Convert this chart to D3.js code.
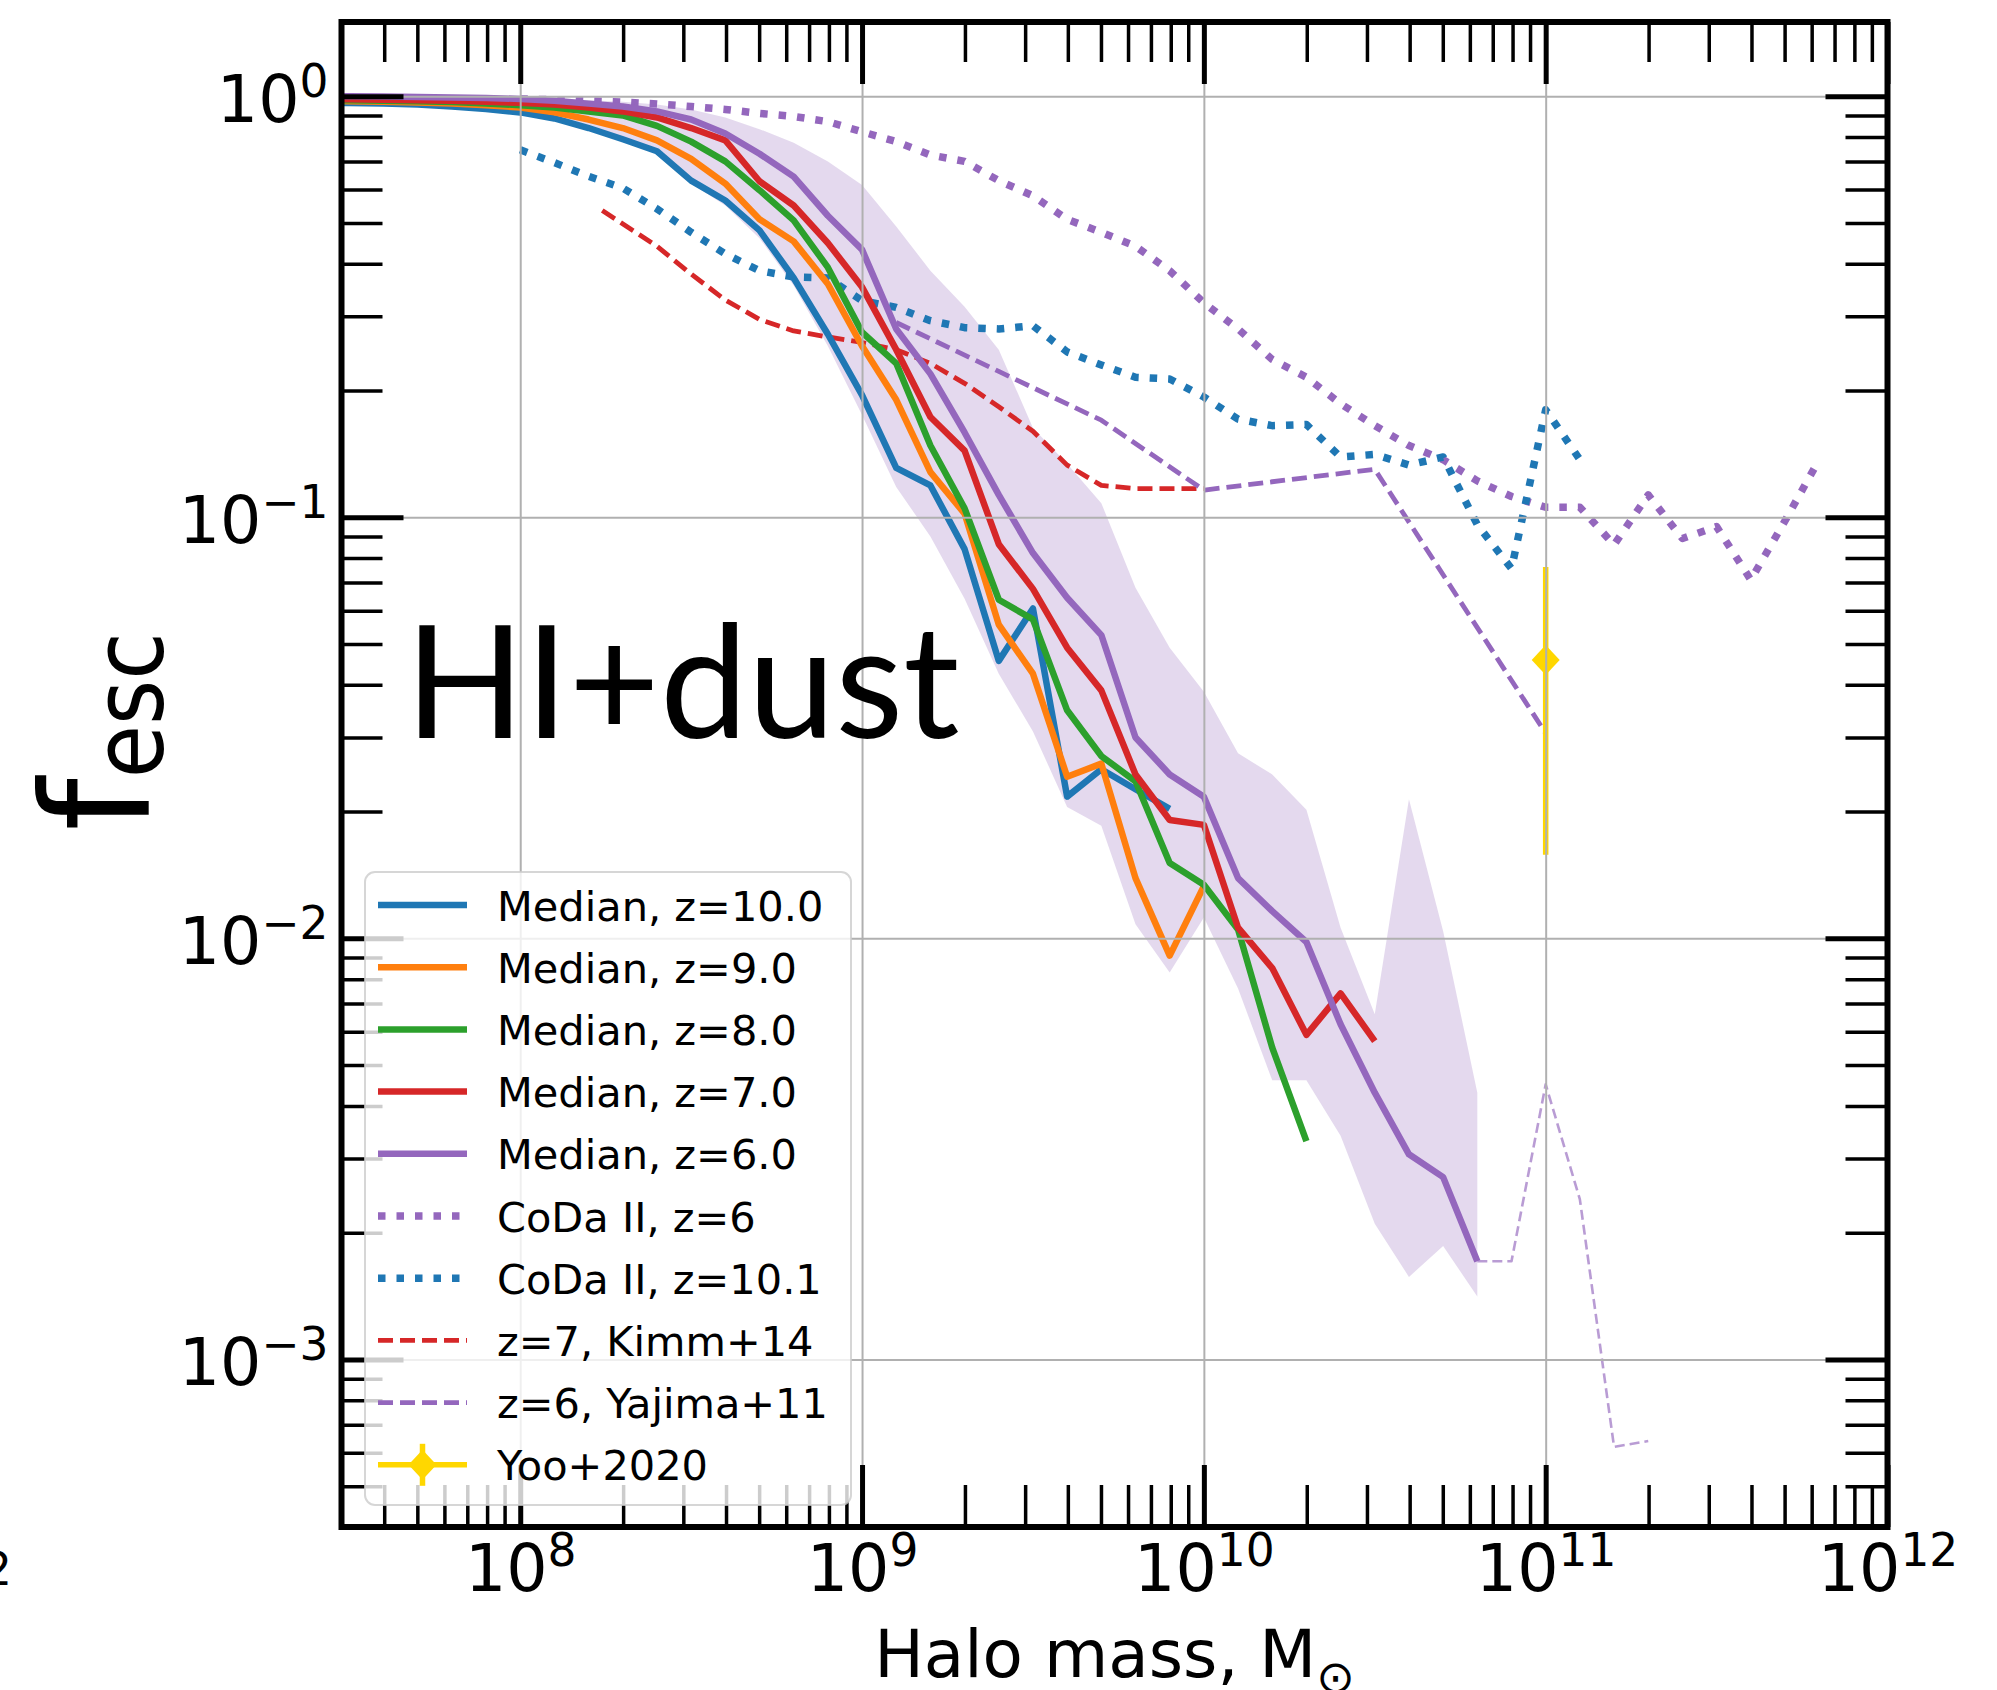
<!DOCTYPE html>
<html>
<head>
<meta charset="utf-8">
<script src="https://cdn.jsdelivr.net/npm/d3@7/dist/d3.min.js"></script>
<style>
html,body{margin:0;padding:0;background:#fff;}
svg{display:block;}
</style>
</head>
<body>
<svg id="chart" width="1997" height="1690" xmlns="http://www.w3.org/2000/svg"></svg>
<script>
// ================= DATA (x = log10 halo mass [Msun], y = f_esc) =================
const medianZ10 = [[7.4,0.965],[7.5,0.963],[7.6,0.96],[7.7,0.955],[7.8,0.945],[7.9,0.932],[8.0,0.915],[8.1,0.885],[8.2,0.84],[8.3,0.79],[8.4,0.74],[8.5,0.63],[8.6,0.565],[8.7,0.48],[8.8,0.37],[8.9,0.272],[9.0,0.195],[9.1,0.131],[9.2,0.119],[9.3,0.084],[9.4,0.0456],[9.5,0.0607],[9.6,0.0217],[9.7,0.0252],[9.8,0.0226],[9.9,0.0203]];
const medianZ9 = [[7.4,0.975],[7.5,0.973],[7.6,0.97],[7.7,0.966],[7.8,0.96],[7.9,0.952],[8.0,0.94],[8.1,0.915],[8.2,0.88],[8.3,0.84],[8.4,0.785],[8.5,0.71],[8.6,0.62],[8.7,0.51],[8.8,0.452],[8.9,0.358],[9.0,0.255],[9.1,0.19],[9.2,0.128],[9.3,0.102],[9.4,0.0556],[9.5,0.0425],[9.6,0.0242],[9.7,0.026],[9.8,0.0139],[9.9,0.0091],[10.0,0.0133]];
const medianZ8 = [[7.4,0.98],[7.5,0.978],[7.6,0.975],[7.7,0.972],[7.8,0.968],[7.9,0.96],[8.0,0.952],[8.1,0.94],[8.2,0.92],[8.3,0.9],[8.4,0.85],[8.5,0.78],[8.6,0.70],[8.7,0.598],[8.8,0.507],[8.9,0.392],[9.0,0.275],[9.1,0.232],[9.2,0.148],[9.3,0.105],[9.4,0.0637],[9.5,0.0572],[9.6,0.0348],[9.7,0.0271],[9.8,0.0236],[9.9,0.0151],[10.0,0.0134],[10.1,0.0105],[10.2,0.0055],[10.3,0.0033]];
const medianZ7 = [[7.4,0.985],[7.5,0.983],[7.6,0.98],[7.7,0.978],[7.8,0.975],[7.9,0.97],[8.0,0.964],[8.1,0.955],[8.2,0.94],[8.3,0.92],[8.4,0.89],[8.5,0.84],[8.6,0.785],[8.7,0.628],[8.8,0.55],[8.9,0.448],[9.0,0.352],[9.1,0.25],[9.2,0.173],[9.3,0.144],[9.4,0.0863],[9.5,0.0676],[9.6,0.049],[9.7,0.0388],[9.8,0.0245],[9.9,0.0191],[10.0,0.0186],[10.1,0.0106],[10.2,0.0085],[10.3,0.0059],[10.4,0.0074],[10.5,0.0057]];
const medianZ6 = [[7.4,1.0],[7.5,1.0],[7.6,0.998],[7.7,0.995],[7.8,0.992],[7.9,0.99],[8.0,0.985],[8.1,0.975],[8.2,0.96],[8.3,0.945],[8.4,0.92],[8.5,0.88],[8.6,0.815],[8.7,0.73],[8.8,0.644],[8.9,0.52],[9.0,0.432],[9.1,0.28],[9.2,0.219],[9.3,0.159],[9.4,0.113],[9.5,0.0822],[9.6,0.0644],[9.7,0.0525],[9.8,0.030],[9.9,0.0245],[10.0,0.0217],[10.1,0.0139],[10.2,0.0116],[10.3,0.0098],[10.4,0.00625],[10.5,0.0043],[10.6,0.00307],[10.7,0.00271],[10.8,0.00171]];
// z=6 scatter band: [log10 M, lower, upper]
const bandZ6 = [[7.4,0.96,1.0],[7.5,0.958,1.0],[7.6,0.955,1.0],[7.7,0.95,1.0],[7.8,0.94,0.998],[7.9,0.925,0.995],[8.0,0.905,0.99],[8.1,0.875,0.985],[8.2,0.835,0.978],[8.3,0.785,0.97],[8.4,0.73,0.955],[8.5,0.62,0.93],[8.6,0.55,0.89],[8.7,0.46,0.835],[8.8,0.355,0.775],[8.9,0.255,0.70],[9.0,0.175,0.615],[9.1,0.118,0.49],[9.2,0.09,0.385],[9.3,0.064,0.316],[9.4,0.0425,0.25],[9.5,0.031,0.163],[9.6,0.0205,0.134],[9.7,0.0185,0.108],[9.8,0.0108,0.068],[9.9,0.0083,0.049],[10.0,0.0112,0.0385],[10.1,0.0076,0.0275],[10.2,0.0046,0.0245],[10.3,0.0046,0.0202],[10.4,0.0034,0.0106],[10.5,0.0021,0.0066],[10.6,0.00157,0.0214],[10.7,0.00186,0.0104],[10.8,0.00141,0.0043]];
// sparse high-mass continuation of the z=6 median
const medianZ6Sparse = [[10.8,0.00171],[10.9,0.00171],[11.0,0.0045],[11.1,0.0024],[11.2,0.00062],[11.3,0.00064]];
const codaZ6 = [[8.0,0.985],[8.1,0.98],[8.2,0.975],[8.3,0.968],[8.4,0.958],[8.5,0.945],[8.6,0.93],[8.7,0.91],[8.8,0.895],[8.9,0.87],[9.0,0.823],[9.1,0.78],[9.2,0.725],[9.3,0.70],[9.4,0.63],[9.5,0.58],[9.6,0.51],[9.7,0.475],[9.8,0.44],[9.9,0.385],[10.0,0.323],[10.1,0.28],[10.2,0.237],[10.3,0.215],[10.4,0.186],[10.5,0.165],[10.6,0.148],[10.7,0.137],[10.8,0.122],[10.9,0.112],[11.0,0.1056],[11.1,0.1056],[11.2,0.086],[11.3,0.113],[11.4,0.089],[11.5,0.095],[11.6,0.071],[11.7,0.098],[11.8,0.137]];
const codaZ10 = [[8.0,0.746],[8.1,0.695],[8.2,0.645],[8.3,0.605],[8.4,0.54],[8.5,0.475],[8.6,0.422],[8.7,0.385],[8.8,0.372],[8.9,0.37],[9.0,0.327],[9.1,0.315],[9.2,0.293],[9.3,0.282],[9.4,0.28],[9.5,0.285],[9.6,0.247],[9.7,0.23],[9.8,0.215],[9.9,0.213],[10.0,0.193],[10.1,0.171],[10.2,0.165],[10.3,0.166],[10.4,0.139],[10.5,0.141],[10.6,0.133],[10.7,0.139],[10.8,0.096],[10.9,0.0755],[11.0,0.18],[11.1,0.137]];
const kimm14 = [[8.24,0.535],[8.4,0.44],[8.5,0.378],[8.6,0.328],[8.7,0.295],[8.8,0.277],[8.9,0.268],[9.0,0.26],[9.1,0.25],[9.2,0.232],[9.3,0.208],[9.4,0.183],[9.5,0.16],[9.6,0.133],[9.7,0.119],[9.8,0.117],[9.9,0.117],[10.0,0.117]];
const yajima11 = [[9.1,0.29],[9.4,0.222],[9.7,0.17],[10.0,0.116],[10.5,0.13],[11.0,0.0307]];
// Yoo+2020: [log10 M, value, lower, upper]
const yoo2020 = [[11.0,0.0458,0.0158,0.0762]];

const xTickExponents = [8, 9, 10, 11, 12];
const yTickExponents = [0, -1, -2, -3];
const legendLabels = ["Median, z=10.0","Median, z=9.0","Median, z=8.0","Median, z=7.0","Median, z=6.0","CoDa II, z=6","CoDa II, z=10.1","z=7, Kimm+14","z=6, Yajima+11","Yoo+2020"];

// ================= STYLE / LAYOUT =================
const C = {blue:"#1f77b4", orange:"#ff7f0e", green:"#2ca02c", red:"#d62728", purple:"#9467bd", gold:"#ffd700"};
const P = {left:341.5, right:1887.5, top:22, bottom:1527};
const FONT = "'DejaVu Sans', 'Liberation Sans', sans-serif";
const SOLID_W = 6.5, DOT_W = 7.5, DOT_DASH = "7.5,11", DASH_W = 4.8, DASH_DASH = "15,7";

const svg = d3.select("#chart");
const x = d3.scaleLog().domain([3e7, 1e12]).range([P.left, P.right]);
const y = d3.scaleLog().domain([4e-4, 1.5]).range([P.bottom, P.top]);
const px = d => x(Math.pow(10, d[0]));

svg.append("rect").attr("width",1997).attr("height",1690).attr("fill","#fff");
svg.append("defs").append("clipPath").attr("id","plotclip")
  .append("rect").attr("x",P.left).attr("y",P.top).attr("width",P.right-P.left).attr("height",P.bottom-P.top);

// band
const plotG = svg.append("g").attr("clip-path","url(#plotclip)");
plotG.append("path").datum(bandZ6)
  .attr("d", d3.area().x(px).y0(d=>y(d[1])).y1(d=>y(d[2])))
  .attr("fill", C.purple).attr("fill-opacity", 0.25);

// grid
const majorX = xTickExponents.map(e=>Math.pow(10,e));
const majorY = yTickExponents.map(e=>Math.pow(10,e));
const gridG = svg.append("g");
gridG.append("g").attr("transform",`translate(0,${P.bottom})`)
  .call(d3.axisBottom(x).tickValues(majorX).tickSize(-(P.bottom-P.top)).tickFormat(""))
  .call(g=>g.select(".domain").remove())
  .call(g=>g.selectAll("line").attr("stroke","#b0b0b0").attr("stroke-width",2));
gridG.append("g").attr("transform",`translate(${P.left},0)`)
  .call(d3.axisLeft(y).tickValues(majorY).tickSize(-(P.right-P.left)).tickFormat(""))
  .call(g=>g.select(".domain").remove())
  .call(g=>g.selectAll("line").attr("stroke","#b0b0b0").attr("stroke-width",2));

// lines
const line = d3.line().x(px).y(d=>y(d[1]));
const series = [
  {data: codaZ6, color:C.purple, w:DOT_W, dash:DOT_DASH},
  {data: codaZ10, color:C.blue, w:DOT_W, dash:DOT_DASH},
  {data: kimm14, color:C.red, w:DASH_W, dash:DASH_DASH},
  {data: yajima11, color:C.purple, w:DASH_W, dash:DASH_DASH},
  {data: medianZ6Sparse, color:C.purple, w:2.6, dash:"10,5", op:0.65},
  {data: medianZ10, color:C.blue, w:SOLID_W},
  {data: medianZ9, color:C.orange, w:SOLID_W},
  {data: medianZ8, color:C.green, w:SOLID_W},
  {data: medianZ7, color:C.red, w:SOLID_W},
  {data: medianZ6, color:C.purple, w:SOLID_W}
];
plotG.selectAll("path.series").data(series).join("path").attr("class","series")
  .attr("d", d=>line(d.data)).attr("fill","none")
  .attr("stroke", d=>d.color).attr("stroke-width", d=>d.w)
  .attr("stroke-dasharray", d=>d.dash||null)
  .attr("stroke-opacity", d=>d.op||1)
  .attr("stroke-linejoin","round").attr("stroke-linecap","butt");

// Yoo+2020 errorbar
const DIAMOND = "M0,-15L14,0L0,15L-14,0Z";
const yooG = plotG.append("g");
yooG.selectAll("line").data(yoo2020).join("line")
  .attr("x1",px).attr("x2",px).attr("y1",d=>y(d[2])).attr("y2",d=>y(d[3]))
  .attr("stroke",C.gold).attr("stroke-width",5.5);
yooG.selectAll("path").data(yoo2020).join("path")
  .attr("transform", d=>`translate(${px(d)},${y(d[1])})`)
  .attr("d",DIAMOND).attr("fill",C.gold);

// ticks
const minorX = x.ticks().filter(v => Math.abs(Math.log10(v) - Math.round(Math.log10(v))) > 1e-6);
const minorY = y.ticks().filter(v => Math.abs(Math.log10(v) - Math.round(Math.log10(v))) > 1e-6);
const tickG = svg.append("g");
function tickAxis(axisFn, vals, size, w, transform){
  tickG.append("g").attr("transform",transform)
    .call(axisFn.tickValues(vals).tickSize(-size).tickFormat(""))
    .call(g=>g.select(".domain").remove())
    .call(g=>g.selectAll("line").attr("stroke","#000").attr("stroke-width",w));
}
tickAxis(d3.axisBottom(x), minorX, 42, 3.5, `translate(0,${P.bottom})`);
tickAxis(d3.axisBottom(x), majorX, 62, 5, `translate(0,${P.bottom})`);
tickAxis(d3.axisTop(x), minorX, 40, 3.5, `translate(0,${P.top})`);
tickAxis(d3.axisTop(x), majorX, 62, 5, `translate(0,${P.top})`);
tickAxis(d3.axisLeft(y), minorY, 41, 3.5, `translate(${P.left},0)`);
tickAxis(d3.axisLeft(y), majorY, 62, 5, `translate(${P.left},0)`);
tickAxis(d3.axisRight(y), minorY, 42, 3.5, `translate(${P.right},0)`);
tickAxis(d3.axisRight(y), majorY, 62, 5, `translate(${P.right},0)`);

// frame
svg.append("rect").attr("x",P.left).attr("y",P.top).attr("width",P.right-P.left).attr("height",P.bottom-P.top)
  .attr("fill","none").attr("stroke","#000").attr("stroke-width",6);

// legend
const L = {x:365, y:872, w:486, h:633, row0:905, dy:62.2, hx0:378, hx1:467, tx:497};
const legG = svg.append("g");
legG.append("rect").attr("x",L.x).attr("y",L.y).attr("width",L.w).attr("height",L.h).attr("rx",10)
  .attr("fill","#fff").attr("fill-opacity",0.8).attr("stroke","#cccccc").attr("stroke-opacity",0.8).attr("stroke-width",2);
const legendStyles = [
  {color:C.blue,w:SOLID_W},{color:C.orange,w:SOLID_W},{color:C.green,w:SOLID_W},{color:C.red,w:SOLID_W},{color:C.purple,w:SOLID_W},
  {color:C.purple,w:DOT_W,dash:DOT_DASH},{color:C.blue,w:DOT_W,dash:DOT_DASH},{color:C.red,w:DASH_W,dash:DASH_DASH},{color:C.purple,w:DASH_W,dash:DASH_DASH},
  {color:C.gold,w:5.5,err:true}
];
const rows = legG.selectAll("g.row").data(legendLabels).join("g").attr("class","row")
  .attr("transform",(d,i)=>`translate(0,${L.row0 + i*L.dy})`);
rows.append("line").attr("x1",L.hx0).attr("x2",L.hx1).attr("y1",0).attr("y2",0)
  .attr("stroke",(d,i)=>legendStyles[i].color).attr("stroke-width",(d,i)=>legendStyles[i].w)
  .attr("stroke-dasharray",(d,i)=>legendStyles[i].dash||null);
rows.filter((d,i)=>legendStyles[i].err).each(function(){
  const g = d3.select(this); const cx = (L.hx0+L.hx1)/2;
  g.append("line").attr("x1",cx).attr("x2",cx).attr("y1",-21).attr("y2",21).attr("stroke",C.gold).attr("stroke-width",5.5);
  g.append("path").attr("transform",`translate(${cx},0)`).attr("d",DIAMOND).attr("fill",C.gold);
});
rows.append("text").attr("x",L.tx).attr("y",15.5).text(d=>d)
  .attr("font-family",FONT).attr("font-size",41.5).attr("fill","#000");

// tick labels
const TL = 65, SUP = 45.5;
function powLabel(sel, exp){
  sel.text(null);
  sel.append("tspan").text("10");
  sel.append("tspan").attr("font-size",SUP).attr("dy",-25).text(String(exp).replace("-","\u2212"));
}
svg.append("g").attr("transform",`translate(0,${P.bottom})`)
  .call(d3.axisBottom(x).tickValues(majorX).tickSize(0).tickFormat(d=>d))
  .call(g=>g.select(".domain").remove())
  .call(g=>g.selectAll(".tick text").attr("dy",null).attr("y",64).attr("font-size",TL).attr("font-family",FONT).attr("fill","#000")
      .each(function(d){ powLabel(d3.select(this), Math.round(Math.log10(d))); }));
svg.append("g").attr("transform",`translate(${P.left},0)`)
  .call(d3.axisLeft(y).tickValues(majorY).tickSize(0).tickFormat(d=>d))
  .call(g=>g.select(".domain").remove())
  .call(g=>g.selectAll(".tick text").attr("dy",null).attr("x",-13).attr("y",25).attr("text-anchor","end").attr("font-size",TL).attr("font-family",FONT).attr("fill","#000")
      .each(function(d){ powLabel(d3.select(this), Math.round(Math.log10(d))); }));

// axis labels
const xl = svg.append("text").attr("x",(P.left+P.right)/2).attr("y",1677).attr("text-anchor","middle")
  .attr("font-family",FONT).attr("font-size",66).attr("fill","#000");
xl.append("tspan").text("Halo mass, M");
xl.append("tspan").attr("font-size",46).attr("dy",16).text("\u2299");

const yl = svg.append("text").attr("transform","translate(149,831) rotate(-90)")
  .attr("font-family",FONT).attr("font-size",150).attr("fill","#000");
yl.append("tspan").text("f");
yl.append("tspan").attr("font-size",98).attr("dy",14).attr("textLength",146).attr("lengthAdjust","spacingAndGlyphs").text("esc");

// annotation
svg.append("text").attr("x",405).attr("y",738).attr("font-family","Lato, 'Open Sans', sans-serif")
  .attr("font-size",157).attr("fill","#000").text("HI+dust");

// cropped neighbour label fragment
svg.append("text").attr("x",12).attr("y",1585).attr("text-anchor","end").attr("font-family",FONT)
  .attr("font-size",SUP).attr("fill","#000").text("2");
</script>
</body>
</html>
